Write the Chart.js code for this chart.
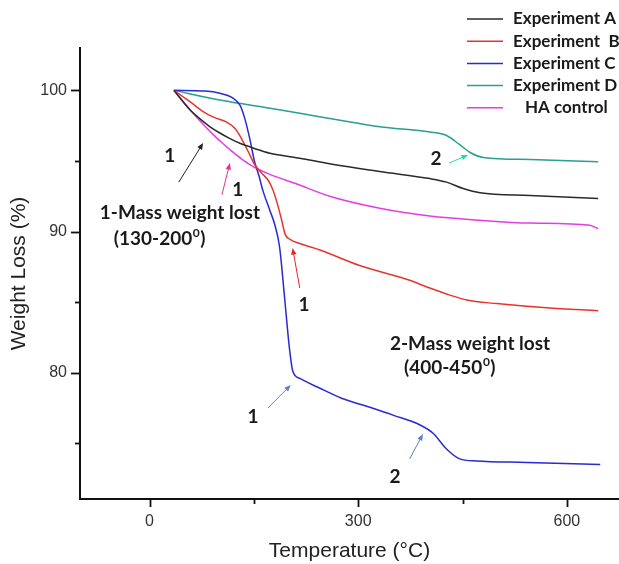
<!DOCTYPE html>
<html>
<head>
<meta charset="utf-8">
<title>TGA weight loss</title>
<script src="https://cdn.jsdelivr.net/npm/chart.js@4.4.1/dist/chart.umd.min.js"></script>
<style>
  html, body { margin: 0; padding: 0; background: #ffffff; }
  #wrap { width: 619px; height: 564px; }
</style>
</head>
<body>
<div id="wrap"><canvas id="tgaChart" width="619" height="564"></canvas></div>
<script>
// Temperature (°C) / weight (%) pairs
const tempA = [35, 58, 77, 87, 101, 115, 130, 150, 173, 216, 259, 331, 403, 427, 451, 475, 547, 645];
const weightA = [100, 98.62, 97.8, 97.42, 96.98, 96.6, 96.25, 95.9, 95.55, 95.2, 94.8, 94.25, 93.75, 93.5, 93.05, 92.75, 92.55, 92.35];

const tempB = [35, 58, 77, 92, 111, 123, 132, 142, 151, 161, 171, 177, 183, 190, 195, 202, 216, 245, 302, 374, 403, 432, 456, 499, 571, 645];
const weightB = [100, 99.2, 98.5, 98.1, 97.75, 97.3, 96.6, 95.65, 94.75, 94.15, 93.6, 93.0, 92.1, 90.8, 89.8, 89.45, 89.15, 88.7, 87.6, 86.55, 86.0, 85.5, 85.15, 84.9, 84.6, 84.4];

const tempC = [35, 80, 101, 120, 130, 137, 144, 151, 157, 163, 173, 180, 187, 194, 201, 206, 216, 245, 276, 320, 350, 389, 408, 427, 446, 470, 542, 648];
const weightC = [100, 99.95, 99.8, 99.45, 98.95, 98.0, 96.6, 94.95, 94.0, 92.9, 91.5, 90.5, 88.9, 85.4, 81.8, 80.1, 79.6, 78.9, 78.2, 77.5, 77.0, 76.3, 75.7, 74.6, 73.9, 73.75, 73.65, 73.5];

const tempD = [35, 101, 173, 216, 274, 331, 403, 427, 446, 461, 480, 547, 645];
const weightD = [100, 99.31, 98.73, 98.38, 97.88, 97.42, 97.05, 96.8, 96.15, 95.6, 95.25, 95.1, 94.95];

const tempHA = [35, 58, 77, 92, 105, 118, 132, 149, 173, 210, 259, 331, 403, 475, 547, 633, 645];
const weightHA = [100, 98.65, 97.6, 96.85, 96.25, 95.7, 95.15, 94.6, 94.05, 93.4, 92.5, 91.65, 91.1, 90.8, 90.6, 90.45, 90.2];

const seriesNames = ['Experiment A', 'Experiment  B', 'Experiment C', 'Experiment D', 'HA control'];
const seriesColors = ['#2a2a2a', '#e8352c', '#2a2ad2', '#279e96', '#e63ce6'];

// Axis ticks (minor ticks carry an empty label)
const xTicks = [0, 150, 300, 450, 600];
const xTickLabels = ['0', '', '300', '', '600'];
const yTicks = [75, 80, 85, 90, 95, 100];
const yTickLabels = ['', '80', '', '90', '', '100'];

// Annotation arrows and labels, placed in data units [temp, weight]
const arrows = [
  { from: [42, 93.5], to: [77, 96.27], color: '#222222', label: '1', at: [29, 95.35] },
  { from: [104, 92.6], to: [115.5, 94.85], color: '#ec2c9c', label: '1', at: [127, 92.94] },
  { from: [216, 86.0], to: [205.7, 88.83], color: '#e8232a', label: '1', at: [222, 84.8] },
  { from: [170, 77.5], to: [203, 79.13], color: '#5a82c8', label: '1', at: [148.6, 76.85] },
  { from: [374, 73.9], to: [393, 75.66], color: '#5a82c8', label: '2', at: [352.8, 72.6] },
  { from: [430.5, 94.85], to: [457.8, 95.42], color: '#27d8a2', label: '2', at: [411.8, 95.13] }
];
const notes = [
  { text: '1-Mass weight lost', at: [-71.5, 91.3] },
  { text: '(130-200', sup: '0', tail: ')', at: [-51.4, 89.47] },
  { text: '2-Mass weight lost', at: [345.7, 82.03] },
  { text: '(400-450', sup: '0', tail: ')', at: [365.8, 80.33] }
];

function toPoints(xs, ys) {
  return xs.map((x, i) => ({ x: x, y: ys[i] }));
}

const datasets = [
  [tempA, weightA], [tempB, weightB], [tempC, weightC], [tempD, weightD], [tempHA, weightHA]
].map(([xs, ys], i) => ({
  label: seriesNames[i],
  data: toPoints(xs, ys),
  borderColor: seriesColors[i],
  borderWidth: 1.5,
  pointRadius: 0,
  fill: false,
  cubicInterpolationMode: 'monotone'
}));

const boldFont = 'bold 19px Lato, "Open Sans", sans-serif';

// Tick marks: long for labelled ticks, short for minor ones
const tickMarks = {
  id: 'tickMarks',
  afterDraw(chart) {
    const ctx = chart.ctx;
    const xs = chart.scales.x, ys = chart.scales.y;
    const area = chart.chartArea;
    ctx.save();
    ctx.strokeStyle = '#111';
    ctx.lineWidth = 1.8;
    xTicks.forEach((v, i) => {
      const px = Math.round(xs.getPixelForValue(v)) + 0.5;
      const len = xTickLabels[i] ? 8 : 5;
      ctx.beginPath();
      ctx.moveTo(px, area.bottom);
      ctx.lineTo(px, area.bottom + len);
      ctx.stroke();
    });
    yTicks.forEach((v, i) => {
      const py = Math.round(ys.getPixelForValue(v)) + 0.5;
      const len = yTickLabels[i] ? 9 : 5;
      ctx.beginPath();
      ctx.moveTo(area.left, py);
      ctx.lineTo(area.left - len, py);
      ctx.stroke();
    });
    ctx.restore();
  }
};

function drawArrow(ctx, x1, y1, x2, y2, color) {
  const ang = Math.atan2(y2 - y1, x2 - x1);
  const head = 7;
  ctx.strokeStyle = color;
  ctx.fillStyle = color;
  ctx.lineWidth = 1;
  ctx.beginPath();
  ctx.moveTo(x1, y1);
  ctx.lineTo(x2 - Math.cos(ang) * head * 0.8, y2 - Math.sin(ang) * head * 0.8);
  ctx.stroke();
  ctx.beginPath();
  ctx.moveTo(x2, y2);
  ctx.lineTo(x2 - head * Math.cos(ang - 0.4), y2 - head * Math.sin(ang - 0.4));
  ctx.lineTo(x2 - head * Math.cos(ang + 0.4), y2 - head * Math.sin(ang + 0.4));
  ctx.closePath();
  ctx.fill();
}

// Arrows, region notes and the legend block in the top right
const annotations = {
  id: 'annotations',
  afterDatasetsDraw(chart) {
    const ctx = chart.ctx;
    const xs = chart.scales.x, ys = chart.scales.y;
    const px = p => [xs.getPixelForValue(p[0]), ys.getPixelForValue(p[1])];
    ctx.save();
    ctx.textBaseline = 'middle';
    ctx.textAlign = 'center';

    arrows.forEach(a => {
      const [x1, y1] = px(a.from);
      const [x2, y2] = px(a.to);
      drawArrow(ctx, x1, y1, x2, y2, a.color);
      const [lx, ly] = px(a.at);
      ctx.fillStyle = '#1a1a1a';
      ctx.font = boldFont;
      ctx.fillText(a.label, lx, ly);
    });

    ctx.textAlign = 'left';
    notes.forEach(n => {
      let [x, y] = px(n.at);
      ctx.fillStyle = '#1a1a1a';
      ctx.font = boldFont;
      ctx.fillText(n.text, x, y);
      if (n.sup) {
        x += ctx.measureText(n.text).width;
        ctx.font = 'bold 12px Lato, "Open Sans", sans-serif';
        ctx.fillText(n.sup, x + 0.5, y - 6);
        x += ctx.measureText(n.sup).width + 1;
        ctx.font = boldFont;
        ctx.fillText(n.tail, x, y);
      }
    });

    // legend
    ctx.font = 'bold 17px Lato, "Open Sans", sans-serif';
    seriesNames.forEach((name, i) => {
      const y = 19 + i * 22.2;
      ctx.strokeStyle = seriesColors[i];
      ctx.lineWidth = 1.5;
      ctx.beginPath();
      ctx.moveTo(467, y);
      ctx.lineTo(503, y);
      ctx.stroke();
      ctx.fillStyle = '#1a1a1a';
      ctx.fillText(name, i === 4 ? 525 : 513, y);
    });
    ctx.restore();
  }
};

const axisFont = { family: '"Liberation Sans", Arial, sans-serif', size: 16 };
const titleFont = { family: '"Liberation Sans", Arial, sans-serif', size: 21 };

new Chart(document.getElementById('tgaChart'), {
  type: 'line',
  data: { datasets: datasets },
  options: {
    responsive: false,
    animation: false,
    layout: { padding: { top: 48, right: 0, bottom: 0, left: 0 } },
    plugins: {
      legend: { display: false },
      tooltip: { enabled: false }
    },
    scales: {
      x: {
        type: 'linear',
        min: -100,
        max: 675,
        afterBuildTicks: scale => { scale.ticks = xTicks.map(v => ({ value: v })); },
        afterFit: scale => { scale.height = 65; },
        grid: { display: false, drawTicks: false },
        border: { display: true, color: '#111', width: 2 },
        ticks: {
          autoSkip: false,
          maxRotation: 0,
          padding: 13,
          color: '#333',
          font: axisFont,
          callback: (v, i) => xTickLabels[i]
        },
        title: {
          display: true,
          text: 'Temperature (°C)',
          color: '#222',
          font: titleFont,
          padding: { top: 0, bottom: 0 }
        }
      },
      y: {
        type: 'linear',
        min: 71.06,
        max: 103,
        afterBuildTicks: scale => { scale.ticks = yTicks.map(v => ({ value: v })); },
        afterFit: scale => { scale.width = 80; },
        grid: { display: false, drawTicks: false },
        border: { display: true, color: '#111', width: 2 },
        ticks: {
          autoSkip: false,
          padding: 13,
          color: '#333',
          font: axisFont,
          callback: (v, i) => yTickLabels[i]
        },
        title: {
          display: true,
          text: 'Weight Loss (%)',
          color: '#222',
          font: titleFont,
          padding: { top: 7, bottom: 0 }
        }
      }
    }
  },
  plugins: [tickMarks, annotations]
});
</script>
</body>
</html>
